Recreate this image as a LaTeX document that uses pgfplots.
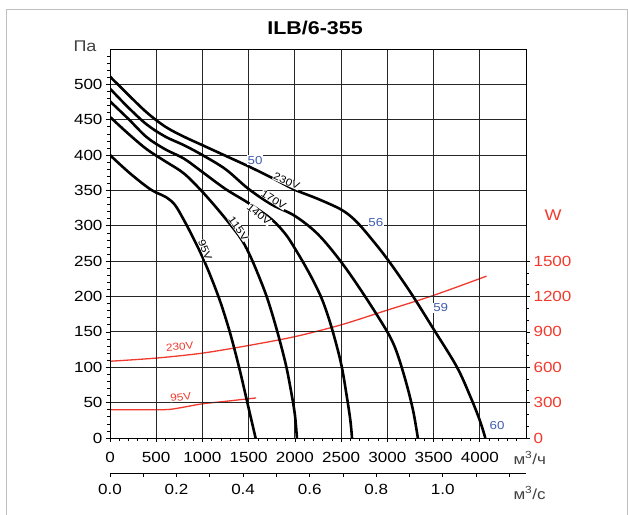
\documentclass[border=0pt]{standalone}
\usepackage{fontspec}
\setmainfont{Liberation Sans}[FakeStretch=1.16]
\usepackage{pgfplots}
\pgfplotsset{compat=1.18}
\definecolor{wred}{RGB}{240,58,46}
\definecolor{eblue}{RGB}{64,92,176}
\definecolor{unitgray}{RGB}{64,64,64}
\newcommand{\tickfont}{\fontsize{14.7bp}{17bp}\selectfont}
\pgfplotsset{
  common/.style={width=416bp, height=389bp, scale only axis, at={(0,0)}, anchor=south west,
    xmin=0, xmax=4500,
    /pgf/number format/assume math mode=true,
    /pgf/number format/1000 sep={},
    scaled ticks=false,
    tick label style={font=\tickfont},
    tick align=outside, major tick length=4bp, minor tick length=3bp,
    tick style={black, line width=0.7bp},
    axis line style={-, line width=1bp}},
  fan/.style={black, line width=2.6bp, smooth, tension=0.55, no markers},
  pw/.style={wred, line width=1.3bp, smooth, tension=0.5, no markers},
}
\tikzset{
  clab/.style={fill=white, inner sep=0.3bp, font=\fontsize{10.2bp}{10.5bp}\selectfont},
  blab/.style={fill=white, inner sep=0.6bp, text=eblue, font=\fontsize{11.5bp}{12bp}\selectfont},
}
\begin{document}
\begin{tikzpicture}
\useasboundingbox (-110bp,-77bp) rectangle (518bp,438bp);
\draw[black!25, line width=0.8bp] (-104bp,-80bp) -- (-104bp,429bp) -- (517bp,429bp) -- (517bp,-80bp);
% m3/s axis
\begin{axis}[at={(0,-35bp)}, anchor=south west, width=416bp, height=10bp, scale only axis,
  xmin=0, xmax=1.25, ymin=0, ymax=1, hide y axis, axis x line*=bottom,
  axis line style={-, line width=0.9bp},
  xtick={0,0.2,0.4,0.6,0.8,1.0}, minor xtick={0.1,0.3,0.5,0.7,0.9,1.1,1.2},
  tick align=outside, major tick length=4bp, minor tick length=4bp,
  tick style={black, line width=0.7bp},
  xticklabel style={font=\tickfont, /pgf/number format/fixed, /pgf/number format/precision=1, /pgf/number format/fixed zerofill, yshift=-4bp},
  /pgf/number format/assume math mode=true]
\addplot[draw=none] coordinates {(0,0)};
\end{axis}
% W axis
\begin{axis}[common, ymin=0, ymax=3300, axis x line=none, axis y line*=right,
  ytick={0,300,600,900,1200,1500},
  minor ytick={100,200,400,500,700,800,1000,1100,1300,1400},
  yticklabel style={text=wred}]
\addplot[pw] coordinates {(0,651) (500,678) (1000,720) (1500,785) (2000,860) (2500,960) (3000,1085) (3500,1210) (4073,1373)};
\addplot[pw] coordinates {(0,240) (500,240) (650,243) (800,262) (1000,290) (1250,311) (1580,340)};
\end{axis}
% main axis
\begin{axis}[common, ymin=0, ymax=550,
  xtick={0,500,...,4000}, ytick={0,50,...,500},
  minor xtick={100,200,...,4400}, minor ytick={10,20,...,540},
  xtick pos=left, ytick pos=left,
  grid=major, major grid style={black!85, line width=0.9bp},
  xticklabel style={yshift=-7bp}]
% 95V
\addplot[fan] coordinates {(0,400) (200,376) (400,355) (500,347) (600,341) (700,330) (800,308) (900,283) (1000,256) (1100,225) (1200,190) (1300,148) (1400,98) (1500,42) (1575,0)};
% 115V
\addplot[fan] coordinates {(0,454) (200,430) (400,408) (600,391) (800,374) (1000,348) (1200,318) (1400,285) (1500,262) (1600,232) (1700,198) (1800,155) (1900,105) (1960,65) (2000,33) (2022,0)};
% 140V
\addplot[fan] coordinates {(0,476) (200,451) (400,425) (600,408) (800,395) (1000,376) (1250,352) (1500,332) (1750,309) (1900,288) (2000,268) (2100,246) (2200,222) (2300,194) (2400,155) (2500,105) (2560,60) (2600,25) (2618,0)};
% 170V
\addplot[fan] coordinates {(0,494) (200,467) (400,443) (600,426) (800,414) (1000,400) (1250,380) (1500,352) (1750,330) (2000,314) (2250,288) (2500,249) (2750,202) (3000,150) (3100,122) (3200,80) (3280,38) (3330,0)};
% 230V
\addplot[fan] coordinates {(0,511) (200,485) (400,460) (600,440) (800,426) (1000,414) (1250,399) (1500,384) (1750,368) (2000,351) (2250,338) (2500,323) (2650,308) (2800,286) (3000,253) (3250,206) (3500,154) (3750,101) (3900,58) (4000,25) (4060,0)};
\node[clab, rotate=-24] at (axis cs:1910,363) {230V};
\node[clab, rotate=-33] at (axis cs:1770,337) {170V};
\node[clab, rotate=-40] at (axis cs:1612,316) {140V};
\node[clab, rotate=-55] at (axis cs:1390,296) {115V};
\node[clab, rotate=-68] at (axis cs:1029,266) {95V};
\node[clab, text=wred, rotate=5] at (axis cs:755,129) {230V};
\node[clab, text=wred, rotate=8] at (axis cs:766,58) {95V};
\node[blab] at (axis cs:1569,393) {50};
\node[blab] at (axis cs:2875,305) {56};
\node[blab] at (axis cs:3577,184) {59};
\node[blab] at (axis cs:4187,17) {60};
\end{axis}
\node[font=\bfseries\fontsize{18.5bp}{20bp}\selectfont] at (205bp,410bp) {ILB/6-355};
\node[text=unitgray, font=\fontsize{15.5bp}{17bp}\selectfont] at (-25bp,392bp) {Па};
\node[text=wred, font=\fontsize{15.5bp}{17bp}\selectfont] at (443bp,223bp) {W};
\node[text=unitgray, font=\tickfont, anchor=west] at (400bp,-20bp) {м\textsuperscript{3}/ч};
\node[text=unitgray, font=\tickfont, anchor=west] at (400bp,-55bp) {м\textsuperscript{3}/с};
\end{tikzpicture}
\end{document}
